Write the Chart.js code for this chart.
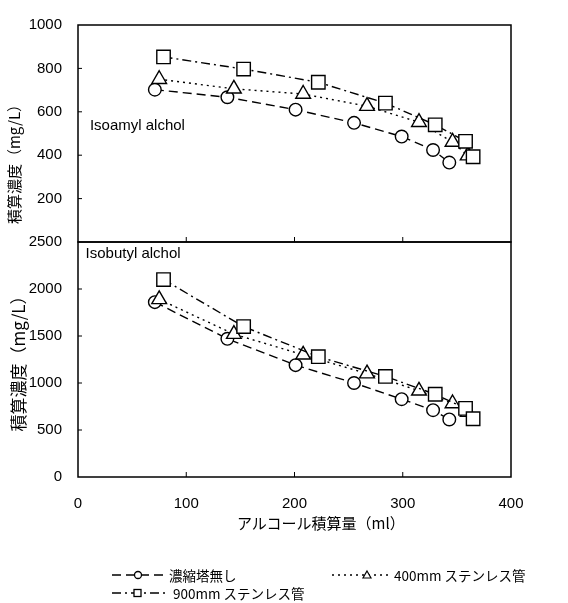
<!DOCTYPE html>
<html lang="ja">
<head>
<meta charset="utf-8">
<script src="https://cdn.jsdelivr.net/npm/chart.js@4.4.1/dist/chart.umd.min.js"></script>
<style>
    html, body { margin: 0; padding: 0; background: #fff; }
    #wrap { position: relative; width: 568px; height: 603px; }
    #wrap canvas { position: absolute; left: 0; top: 0; }
    .xtitle { position: absolute; left: 237px; top: 512px; font: 15px "Noto Sans CJK JP"; color: #000; white-space: nowrap; }
    .leg { position: absolute; display: flex; align-items: center; font: 13.5px "Noto Sans CJK JP"; color: #000; white-space: nowrap; }
    .leg svg { display: block; }
</style>
</head>
<body>
<div id="wrap">
    <canvas id="bottomChart" width="568" height="603"></canvas>
    <canvas id="topChart" width="568" height="603"></canvas>
    <div class="xtitle">アルコール積算量（ml）</div>
    <div class="leg" style="left:112px; top:565px;">
        <svg width="56" height="14"><line x1="0" y1="7" x2="56" y2="7" stroke="#000" stroke-width="1.3" stroke-dasharray="9,5"/><circle cx="26" cy="7" r="3.5" fill="#fff" stroke="#000" stroke-width="1.3"/></svg>
        <span style="margin-left:1px">濃縮塔無し</span>
    </div>
    <div class="leg" style="left:332px; top:565px;">
        <svg width="60" height="14"><line x1="0" y1="7" x2="60" y2="7" stroke="#000" stroke-width="1.3" stroke-dasharray="2,4"/><path d="M35 3 L39 10 L31 10 Z" fill="#fff" stroke="#000" stroke-width="1.2"/></svg>
        <span style="margin-left:2px">400mm ステンレス管</span>
    </div>
    <div class="leg" style="left:112px; top:583px;">
        <svg width="56" height="14"><line x1="0" y1="7" x2="56" y2="7" stroke="#000" stroke-width="1.3" stroke-dasharray="9,4,2,4"/><rect x="22" y="3.5" width="7" height="7" fill="#fff" stroke="#000" stroke-width="1.3"/></svg>
        <span style="margin-left:5px">900mm ステンレス管</span>
    </div>
</div>
<script>
// x: alcohol cumulative volume (ml)
const xNone   = [71, 138, 201, 255, 299, 328, 343];
const x400    = [75, 144, 208, 267, 315, 346, 360];
const x900    = [79, 153, 222, 284, 330, 358, 365];

// Isoamyl alchol (mg/L)
const amylNone = [702, 667, 610, 549, 486, 424, 366];
const amyl400  = [750, 706, 682, 626, 552, 461, 398];
const amyl900  = [853, 797, 736, 640, 540, 464, 393];

// Isobutyl alchol (mg/L)
const butylNone = [1860, 1470, 1190, 1000, 828, 711, 612];
const butyl400  = [1890, 1520, 1300, 1100, 917, 782, 690];
const butyl900  = [2100, 1600, 1280, 1070, 880, 730, 620];

const seriesNames = ['濃縮塔無し', '400mm ステンレス管', '900mm ステンレス管'];
const yTitle      = '積算濃度（mg/L）';
const xTicks      = [100, 200, 300];
const topYTicks   = [200, 400, 600, 800];
const bottomYTicks = [500, 1000, 1500, 2000];

const NUM_FONT = { family: 'Liberation Sans', size: 15 };
const JP_FONT  = { family: 'Noto Sans CJK JP', size: 17 };

function pairs(xs, ys) { return xs.map((x, i) => ({ x, y: ys[i] })); }

function series(label, xs, ys, style, radius, dash, order) {
    return {
        label, data: pairs(xs, ys), showLine: true, order,
        borderColor: '#000', borderWidth: 1.4, borderDash: dash,
        pointStyle: style, pointRadius: radius, pointBorderWidth: 1.4,
        pointBackgroundColor: '#fff', pointBorderColor: '#000',
    };
}

// frame + inward tick marks + panel caption (+ optional shifted y title)
function panelPlugin(caption, capX, capY, yTicks, ownTitle) {
    return {
        id: 'panel',
        afterDraw(chart) {
            const { ctx, chartArea: a, scales } = chart;
            ctx.save();
            ctx.strokeStyle = '#000';
            ctx.lineWidth = 1.5;
            ctx.strokeRect(a.left, a.top, a.right - a.left, a.bottom - a.top);
            ctx.lineWidth = 1;
            ctx.beginPath();
            xTicks.forEach(v => {
                const px = scales.x.getPixelForValue(v);
                ctx.moveTo(px, a.bottom); ctx.lineTo(px, a.bottom - 5);
            });
            yTicks.forEach(v => {
                const py = scales.y.getPixelForValue(v);
                ctx.moveTo(a.left, py); ctx.lineTo(a.left + 4, py);
            });
            ctx.stroke();
            ctx.fillStyle = '#000';
            ctx.font = '15px "Liberation Sans"';
            ctx.textBaseline = 'middle';
            ctx.fillText(caption, scales.x.getPixelForValue(capX), scales.y.getPixelForValue(capY));
            if (ownTitle) {
                ctx.translate(14, (a.top + a.bottom) / 2 + 27);
                ctx.rotate(-Math.PI / 2);
                ctx.font = '15px "Noto Sans CJK JP"';
                ctx.textAlign = 'center';
                ctx.fillText(yTitle, 0, 0);
            }
            ctx.restore();
        }
    };
}

function yScale(max, step, hideZero, showTitle) {
    return {
        min: 0, max,
        ticks: {
            stepSize: step, color: '#000', font: NUM_FONT, padding: 16,
            callback: v => (hideZero && v === 0) ? '' : v,
        },
        grid: { display: false, drawTicks: false },
        border: { display: false },
        title: { display: showTitle, text: yTitle, color: '#000', font: JP_FONT, padding: { top: 8, bottom: 0 } },
        afterFit: s => { s.width = 78; },
    };
}

const topChart = new Chart(document.getElementById('topChart'), {
    type: 'scatter',
    data: {
        datasets: [
            series(seriesNames[0], xNone, amylNone, 'circle', 6.3, [9, 5], 2),
            series(seriesNames[1], x400, amyl400, 'triangle', 8.5, [2, 4], 1),
            series(seriesNames[2], x900, amyl900, 'rect', 9.5, [9, 4, 2, 4], 0),
        ]
    },
    options: {
        responsive: false, animation: false, events: [],
        layout: { padding: { top: 15, bottom: 361, left: 0, right: 57 } },
        plugins: { legend: { display: false }, tooltip: { enabled: false } },
        scales: {
            x: { type: 'linear', min: 0, max: 400, display: false },
            y: yScale(1000, 200, true, false),
        }
    },
    plugins: [panelPlugin('Isoamyl alchol', 11, 533, topYTicks, true)]
});

const bottomChart = new Chart(document.getElementById('bottomChart'), {
    type: 'scatter',
    data: {
        datasets: [
            series(seriesNames[0], xNone, butylNone, 'circle', 6.3, [9, 5], 2),
            series(seriesNames[1], x400, butyl400, 'triangle', 8.5, [2, 4], 1),
            series(seriesNames[2], x900, butyl900, 'rect', 9.5, [9, 4, 2, 4], 0),
        ]
    },
    options: {
        responsive: false, animation: false, events: [],
        layout: { padding: { top: 242, bottom: 86, left: 0, right: 57 } },
        plugins: { legend: { display: false }, tooltip: { enabled: false } },
        scales: {
            x: {
                type: 'linear', min: 0, max: 400,
                ticks: { stepSize: 100, color: '#000', font: NUM_FONT, padding: 18 },
                grid: { display: false, drawTicks: false },
                border: { display: false },
                afterFit: s => { s.height = 40; },
            },
            y: yScale(2500, 500, false, true),
        }
    },
    plugins: [panelPlugin('Isobutyl alchol', 7, 2372, bottomYTicks, false)]
});
</script>
</body>
</html>
